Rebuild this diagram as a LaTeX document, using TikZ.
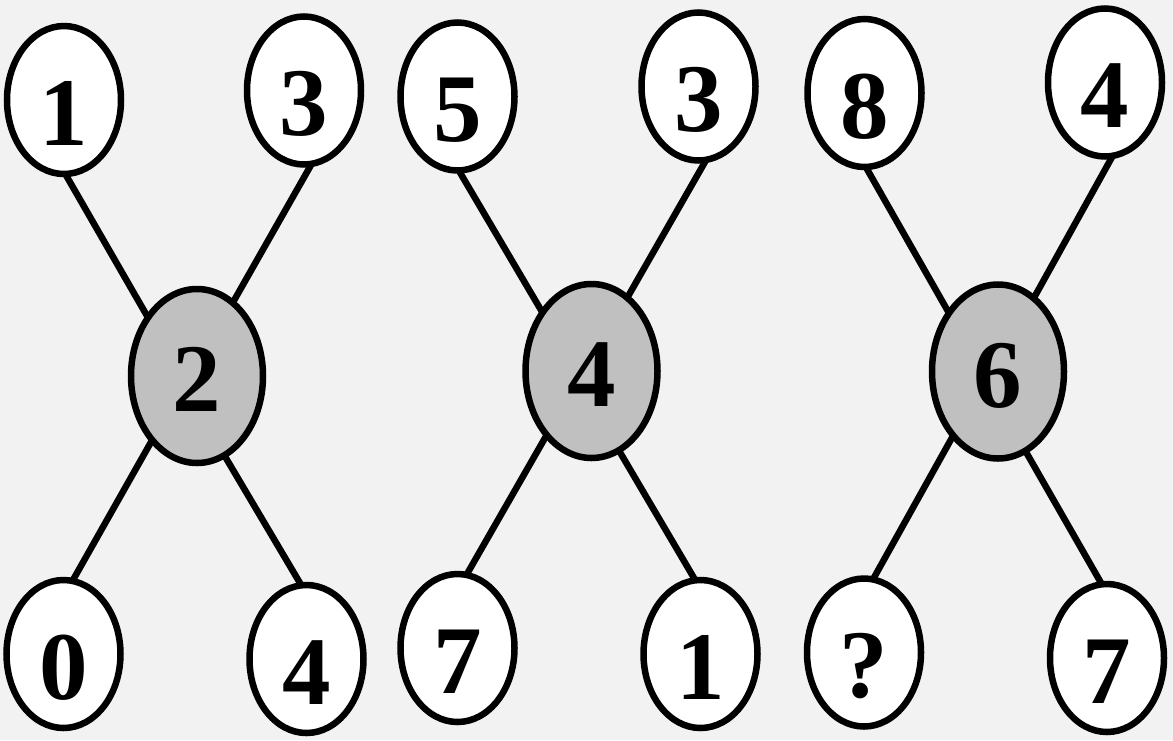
\documentclass[tikz,border=0pt]{standalone}
\usepackage{fontspec}
\setmainfont{Liberation Serif}
\usetikzlibrary{shapes.geometric}
\definecolor{bgcol}{HTML}{F2F2F2}
\definecolor{hubcol}{HTML}{C0C0C0}
\pgfdeclarelayer{back}
\pgfdeclarelayer{edges}
\pgfsetlayers{back,edges,main}
\begin{document}
\begin{tikzpicture}[x=1pt,y=-1pt,
  leaf/.style={ellipse, draw=black, line width=6.5pt, fill=white,
    minimum width=114pt, minimum height=148pt, inner sep=0pt, outer sep=0pt,
    text height=90pt, text depth=0pt, font=\fontsize{97}{97}\selectfont\bfseries},
  hub/.style={leaf, fill=hubcol, minimum width=132pt, minimum height=174pt, text height=71pt},
  link/.style={draw=black, line width=6.5pt}]
\begin{pgfonlayer}{back}
\fill[bgcol] (0,0) rectangle (1173,740);
\end{pgfonlayer}
\useasboundingbox (0,0) rectangle (1173,740);
% group 1
\node[leaf] (a1) at (64,100) {1};
\node[leaf] (b1) at (304,90.5) {3};
\node[hub]  (c1) at (197,376) {2};
\node[leaf] (d1) at (63.5,654) {0};
\node[leaf] (e1) at (306.5,659) {4};
% group 2
\node[leaf] (a2) at (457.5,96.5) {5};
\node[leaf] (b2) at (698.5,86.5) {3};
\node[hub]  (c2) at (591.5,371) {4};
\node[leaf] (d2) at (457.5,648) {7};
\node[leaf] (e2) at (700.5,654) {1};
% group 3
\node[leaf] (a3) at (864.5,93) {8};
\node[leaf] (b3) at (1105,82.5) {4};
\node[hub]  (c3) at (998,371.5) {6};
\node[leaf] (d3) at (864,652.5) {?};
\node[leaf] (e3) at (1107,658) {7};
\begin{pgfonlayer}{edges}
\foreach \g in {1,2,3}{
  \draw[link] (a\g.-89) -- (c\g.130);
  \draw[link] (b\g.-84) -- (c\g.64.5);
  \draw[link] (c\g.-125) -- (d\g.83);
  \draw[link] (c\g.-71) -- (e\g.94);
}
\end{pgfonlayer}
\end{tikzpicture}
\end{document}
